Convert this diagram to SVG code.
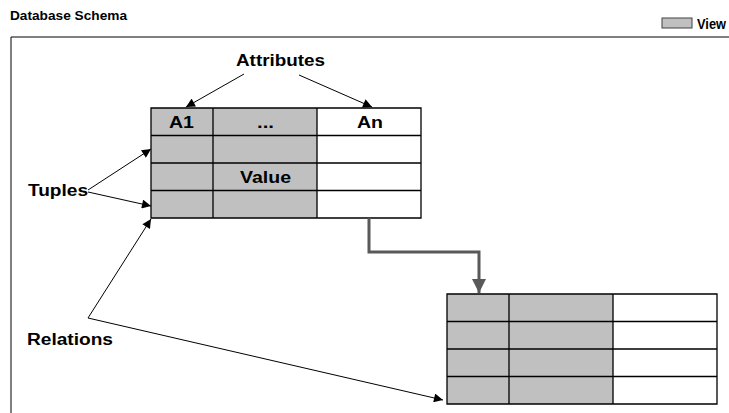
<svg xmlns="http://www.w3.org/2000/svg" width="729" height="413" viewBox="0 0 729 413">
<style>
text{font-family:"Liberation Sans",Arial,sans-serif;font-weight:bold;fill:#000}
.lbl{font-size:16px}
.g{fill:#c0c0c0;stroke:none}
.w{fill:#fff;stroke:none}
.grid{stroke:#000;stroke-width:1.3;fill:none}
.thin{stroke:#000;stroke-width:1;fill:none}
</style>
<defs>
<marker id="ah" viewBox="0 0 10 10" refX="10" refY="5" markerWidth="10" markerHeight="9" markerUnits="userSpaceOnUse" orient="auto">
<path d="M0,0 L10,5 L0,10 z" fill="#000"/>
</marker>
<marker id="gh" viewBox="0 0 10 10" refX="10" refY="5" markerWidth="14" markerHeight="14" markerUnits="userSpaceOnUse" orient="auto">
<path d="M0,0 L10,5 L0,10 z" fill="#595959"/>
</marker>
</defs>
<g id="title"><text x="10" y="20" font-size="13.5" textLength="117" lengthAdjust="spacingAndGlyphs">Database Schema</text></g>
<g id="legend"><rect x="662" y="18" width="30" height="10" fill="#c0c0c0" stroke="#404040" stroke-width="1"/><text x="697" y="28.5" font-size="14" textLength="29" lengthAdjust="spacingAndGlyphs">View</text></g>
<g id="frame"><path d="M11,413 V37 H729" class="thin" stroke-width="1.3"/></g>
<g id="relation1">
<rect x="151" y="108" width="166" height="110" class="g"/>
<rect x="317" y="108" width="104" height="110" class="w"/>
<path class="grid" d="M151,108 H421 V218 H151 Z M151,135.5 H421 M151,163 H421 M151,190.5 H421 M213,108 V218 M317,108 V218"/>
<text class="lbl" x="169" y="128" textLength="25" lengthAdjust="spacingAndGlyphs">A1</text>
<text class="lbl" x="257" y="128" textLength="17" lengthAdjust="spacingAndGlyphs">...</text>
<text class="lbl" x="357" y="128" textLength="26" lengthAdjust="spacingAndGlyphs">An</text>
<text class="lbl" x="240" y="183" textLength="51" lengthAdjust="spacingAndGlyphs">Value</text>
</g>
<g id="relation2">
<rect x="447" y="294" width="166" height="110" class="g"/>
<rect x="613" y="294" width="104" height="110" class="w"/>
<path class="grid" d="M447,294 H717 V404 H447 Z M447,321.5 H717 M447,349 H717 M447,376.5 H717 M509,294 V404 M613,294 V404"/>
</g>
<g id="label-attributes"><text class="lbl" x="236" y="66" textLength="89" lengthAdjust="spacingAndGlyphs">Attributes</text></g>
<g id="label-tuples"><text class="lbl" x="28" y="196" textLength="60" lengthAdjust="spacingAndGlyphs">Tuples</text></g>
<g id="label-relations"><text class="lbl" x="27" y="345" textLength="86" lengthAdjust="spacingAndGlyphs">Relations</text></g>
<g id="connectors">
<line class="thin" x1="244" y1="74" x2="186" y2="107" marker-end="url(#ah)"/>
<line class="thin" x1="299" y1="75" x2="372" y2="107" marker-end="url(#ah)"/>
<line class="thin" x1="88" y1="190" x2="151" y2="149" marker-end="url(#ah)"/>
<line class="thin" x1="88" y1="192" x2="151" y2="206" marker-end="url(#ah)"/>
<line class="thin" x1="88" y1="318" x2="151" y2="219" marker-end="url(#ah)"/>
<line class="thin" x1="88" y1="318" x2="443" y2="400" marker-end="url(#ah)"/>
<path d="M369,218 V252 H479 V293" fill="none" stroke="#595959" stroke-width="3" marker-end="url(#gh)"/>
</g>
</svg>
